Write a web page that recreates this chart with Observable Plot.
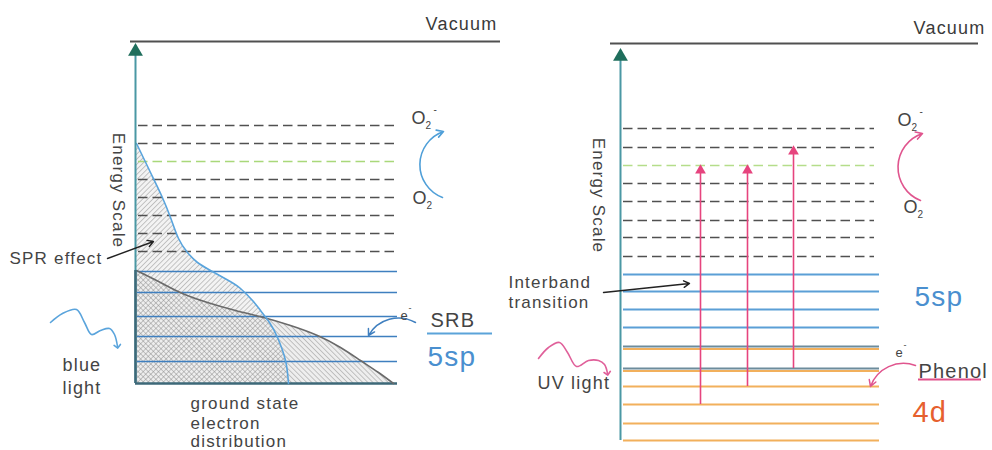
<!DOCTYPE html>
<html><head><meta charset="utf-8">
<script src="https://cdn.jsdelivr.net/npm/d3@7"></script>
<script src="https://cdn.jsdelivr.net/npm/@observablehq/plot@0.6"></script>
<style>
body{margin:0;background:#fff}
svg{display:block}
svg text{letter-spacing:1.2px}
</style>
</head><body><div id="chart"></div>
<script>
// ---------- data (schematic energy levels, rows measured downward) ----------
const vacuumLevels = [{x1:130, x2:500, e:41}, {x1:610, x2:978, e:43}];
const axes = [{x:135, base:383, top:46}, {x:620, base:440, top:51}];

const leftDashed = [125, 143, 179, 197, 215, 233, 251];
const leftFermi = [161];
const leftSolid = [271, 292, 316, 336, 361];
const leftBottom = [383];

const rightDashed = [128, 147, 183, 201, 220, 237, 256];
const rightFermi = [165];
const rightBlue = [274, 291, 309, 327];
const rightMixed = [346, 368];
const rightOrange = [386, 404, 423, 440];

// distributions (energy row e, density n)
const sprCurve = [
  {e:143,n:136},{e:172,n:150},{e:195,n:161},{e:217,n:170},{e:238,n:178},{e:252,n:187},
  {e:262,n:197},{e:270,n:210},{e:280,n:228},{e:288,n:240},{e:300,n:252},{e:310,n:260},
  {e:322,n:269},{e:337,n:277},{e:360,n:285},{e:383,n:288}];
const groundCurve = [
  {e:270,n:136},{e:282,n:160},{e:293,n:182},{e:302,n:207},{e:310,n:235},{e:317,n:263},
  {e:325,n:290},{e:335,n:317},{e:347,n:340},{e:360,n:360},{e:372,n:378},{e:383,n:393}];

// interband transitions (UV)
const transitions = [{x:700, from:404, to:166}, {x:747, from:386, to:166}, {x:793, from:368, to:147}];

// light waves
const blueWave = [{x:50,y:322},{x:62,y:313},{x:76,y:309},{x:84,y:322},{x:91,y:334},{x:100,y:330},{x:109,y:328},{x:114,y:334},{x:117,y:346}];
const uvWave = [{x:538,y:358},{x:548,y:347},{x:559,y:342},{x:567,y:352},{x:576,y:366},{x:588,y:360},{x:598,y:360},{x:604,y:364},{x:607,y:373}];

// straight pointer arrows
const pointers = [{x1:107,y1:258,x2:153,y2:241}, {x1:603,y1:292,x2:689,y2:283}];

// underlines
const underlines = [{x1:427,x2:492,e:333,c:"#5ba3d9"}, {x1:918,x2:981,e:379,c:"#e0508a"}];

// text labels (left edge x, centre row y)
const labels = [
  {t:"SPR effect", x:9, y:258, s:17, c:"#444"},
  {t:"blue", x:62, y:365, s:18, c:"#444"},
  {t:"light", x:62, y:388, s:18, c:"#444"},
  {t:"ground state", x:190, y:403, s:17, c:"#444"},
  {t:"electron", x:190, y:423, s:17, c:"#444"},
  {t:"distribution", x:190, y:441, s:17, c:"#444"},
  {t:"SRB", x:430, y:320, s:20, c:"#444"},
  {t:"5sp", x:427, y:357, s:28, c:"#4a8fcf"},
  {t:"O", x:411, y:118, s:18, c:"#444"},
  {t:"2", x:425, y:125, s:10, c:"#444"},
  {t:"-", x:433, y:109, s:10, c:"#444"},
  {t:"O", x:412, y:198, s:18, c:"#444"},
  {t:"2", x:426, y:205, s:10, c:"#444"},
  {t:"e", x:400, y:315, s:13, c:"#444"},
  {t:"-", x:408, y:308, s:9, c:"#444"},
  {t:"Interband", x:508, y:282, s:17, c:"#444"},
  {t:"transition", x:508, y:302, s:17, c:"#444"},
  {t:"UV light", x:537, y:383, s:18, c:"#444"},
  {t:"5sp", x:914, y:297, s:28, c:"#4a8fcf"},
  {t:"4d", x:912, y:412, s:29, c:"#e6602e"},
  {t:"Phenol", x:918, y:371, s:20, c:"#444"},
  {t:"e", x:895, y:352, s:13, c:"#444"},
  {t:"-", x:903, y:345, s:9, c:"#444"},
  {t:"O", x:897, y:120, s:18, c:"#444"},
  {t:"2", x:911, y:127, s:10, c:"#444"},
  {t:"-", x:919, y:111, s:10, c:"#444"},
  {t:"O", x:903, y:207, s:18, c:"#444"},
  {t:"2", x:917, y:214, s:10, c:"#444"}
];
const vacuumLabels = [{t:"Vacuum", x:497, y:24}, {t:"Vacuum", x:985, y:28}];
const axisLabels = [{t:"Energy Scale", x:118, y:190}, {t:"Energy Scale", x:598, y:195}];

// ---------- chart ----------
const FONT = "Liberation Sans, Arial, Helvetica, sans-serif";
const grey = "#505050", blue = "#5b9fd6", pink = "#e6447e", orange = "#f2b05c";

const svg = Plot.plot({
  width: 992, height: 450, margin: 0,
  x: {domain:[0,992], range:[0,992], axis:null},
  y: {domain:[0,450], range:[0,450], axis:null},
  color: {type:"identity"},
  style: {fontFamily: FONT, background:"#fff", overflow:"visible"},
  marks: [
    // hatched distributions
    Plot.areaX(sprCurve, {y:"e", x1:136, x2:"n", fill:"#f3f3f3", curve:"natural"}),
    Plot.areaX(groundCurve, {y:"e", x1:136, x2:"n", fill:"#eeeeee", curve:"natural"}),
    Plot.areaX(sprCurve, {y:"e", x1:136, x2:"n", fill:"url(#hatchA)", curve:"natural"}),
    Plot.areaX(groundCurve, {y:"e", x1:136, x2:"n", fill:"url(#hatchB)", curve:"natural"}),

    // vacuum
    Plot.ruleY(vacuumLevels, {y:"e", x1:"x1", x2:"x2", stroke:grey, strokeWidth:2}),

    // left panel levels
    Plot.ruleY(leftDashed, {x1:138, x2:397, stroke:grey, strokeWidth:1.7, strokeDasharray:"9.5,5"}),
    Plot.ruleY(leftFermi, {x1:138, x2:397, stroke:"#a9d87a", strokeWidth:1.7, strokeDasharray:"9.5,5"}),
    Plot.ruleY(leftSolid, {x1:137, x2:397, stroke:"#3f7fbf", strokeWidth:1.6}),
    Plot.ruleY(leftBottom, {x1:135, x2:397, stroke:"#3d6878", strokeWidth:2.5}),

    // right panel levels
    Plot.ruleY(rightDashed, {x1:623, x2:874, stroke:grey, strokeWidth:1.7, strokeDasharray:"9.5,5"}),
    Plot.ruleY(rightFermi, {x1:623, x2:874, stroke:"#b5dd8a", strokeWidth:1.7, strokeDasharray:"9.5,5"}),
    Plot.ruleY(rightBlue, {x1:623, x2:879, stroke:blue, strokeWidth:2}),
    Plot.ruleY(rightMixed, {x1:623, x2:879, stroke:orange, strokeWidth:2, dy:2.5}),
    Plot.ruleY(rightMixed, {x1:623, x2:879, stroke:"#6d8c9c", strokeWidth:2}),
    Plot.ruleY(rightOrange, {x1:623, x2:879, stroke:orange, strokeWidth:2}),

    // distribution outlines
    Plot.line(groundCurve, {x:"n", y:"e", stroke:"#6a6a6a", strokeWidth:1.6, curve:"natural"}),
    Plot.line(sprCurve, {x:"n", y:"e", stroke:"#5aa4dc", strokeWidth:1.6, curve:"natural"}),

    // axes
    Plot.ruleX(axes, {x:"x", y1:"base", y2:"top", stroke:"#4a98a4", strokeWidth:2}),
    Plot.ruleX([135], {y1:270, y2:383, stroke:"#3d6878", strokeWidth:2.5}),
    Plot.dot(axes, {x:"x", y:"top", symbol:"triangle", r:5.5, dy:5, fill:"#1f6e5c", stroke:null}),

    // interband transitions
    Plot.ruleX(transitions, {x:"x", y1:"from", y2:"to", stroke:pink, strokeWidth:1.6}),
    Plot.dot(transitions, {x:"x", y:"to", symbol:"triangle", r:4, dy:4, fill:pink, stroke:null}),

    // curved arrows
    Plot.arrow([{x1:442,y1:197,x2:443,y2:131}], {x1:"x1",y1:"y1",x2:"x2",y2:"y2", bend:70, stroke:"#4f9fd8", strokeWidth:1.6, headLength:7}),
    Plot.arrow([{x1:920,y1:200,x2:922,y2:133}], {x1:"x1",y1:"y1",x2:"x2",y2:"y2", bend:70, stroke:"#e0558e", strokeWidth:1.6, headLength:7}),
    Plot.arrow([{x1:415,y1:322,x2:368,y2:335}], {x1:"x1",y1:"y1",x2:"x2",y2:"y2", bend:-45, stroke:"#3f7fbf", strokeWidth:1.5, headLength:7}),
    Plot.arrow([{x1:915,y1:365,x2:870,y2:386}], {x1:"x1",y1:"y1",x2:"x2",y2:"y2", bend:-45, stroke:"#e0558e", strokeWidth:1.5, headLength:7}),

    // pointers
    Plot.arrow(pointers, {x1:"x1",y1:"y1",x2:"x2",y2:"y2", stroke:"#222", strokeWidth:1.4, headLength:7}),

    // waves
    Plot.line(blueWave, {x:"x", y:"y", curve:"catmull-rom", stroke:"#5aa4dc", strokeWidth:1.6, markerEnd:"arrow"}),
    Plot.line(uvWave, {x:"x", y:"y", curve:"catmull-rom", stroke:"#e0609a", strokeWidth:1.6, markerEnd:"arrow"}),

    // underlines
    Plot.ruleY(underlines, {y:"e", x1:"x1", x2:"x2", stroke:"c", strokeWidth:2}),

    // texts
    Plot.text(labels, {x:"x", y:"y", text:"t", fontSize:"s", fill:"c", textAnchor:"start"}),
    Plot.text(vacuumLabels, {x:"x", y:"y", text:"t", fontSize:18, fill:"#3a3a3a", textAnchor:"end"}),
    Plot.text(axisLabels, {x:"x", y:"y", text:"t", fontSize:17, fill:"#444", rotate:90})
  ]
});

// hatch patterns
const defs = d3.select(svg).insert("defs", ":first-child");
function hatch(id, angle) {
  const p = defs.append("pattern").attr("id", id).attr("patternUnits", "userSpaceOnUse")
    .attr("width", 3.6).attr("height", 3.6).attr("patternTransform", `rotate(${angle})`);
  p.append("line").attr("x1", 0).attr("y1", 0).attr("x2", 0).attr("y2", 3.6)
    .attr("stroke", "#8a8a8a").attr("stroke-width", 0.9);
}
hatch("hatchA", 45);
hatch("hatchB", -45);

document.getElementById("chart").append(svg);
</script>
</body></html>
